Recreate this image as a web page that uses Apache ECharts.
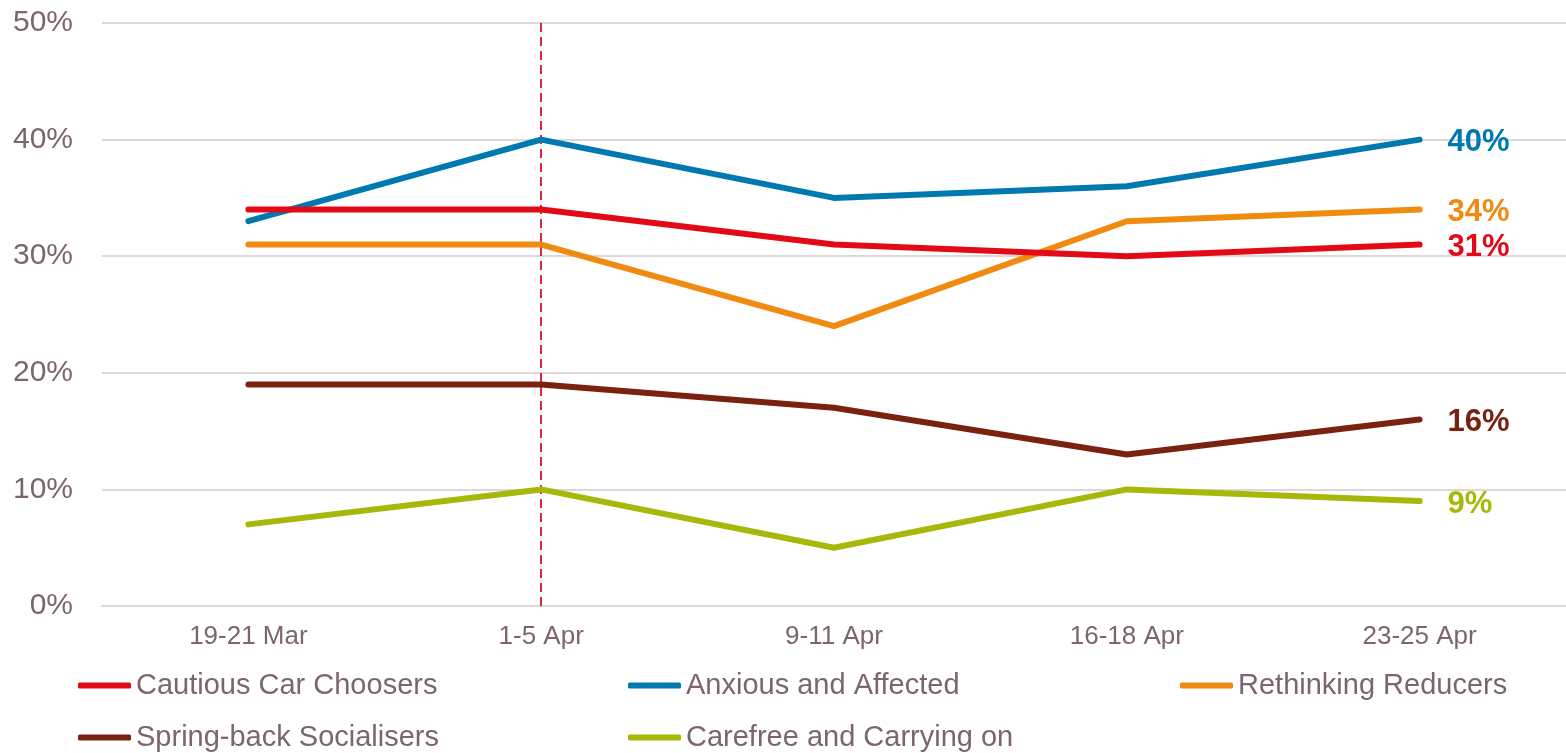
<!DOCTYPE html>
<html>
<head>
<meta charset="utf-8">
<script src="https://cdn.jsdelivr.net/npm/echarts@6/dist/echarts.min.js"></script>
<style>
  html, body { margin: 0; padding: 0; background: #ffffff; }
  #chart { width: 1566px; height: 753px; }
</style>
</head>
<body>
<div id="chart"></div>
<script>
// Survey waves
const categories = ['19-21 Mar', '1-5 Apr', '9-11 Apr', '16-18 Apr', '23-25 Apr'];

// Share of respondents in each segment (%)
const cautiousCarChoosers = [34, 34, 31, 30, 31];
const anxiousAndAffected = [33, 40, 35, 36, 40];
const rethinkingReducers = [31, 31, 24, 33, 34];
const springBackSocialisers = [19, 19, 17, 13, 16];
const carefreeAndCarryingOn = [7, 10, 5, 10, 9];

const yTicks = [0, 10, 20, 30, 40, 50];
const markerCategory = '1-5 Apr';

const textColor = '#7b6571';
const gridColor = '#ddd7da';
const font = '"Liberation Sans", Arial, sans-serif';

const seriesDefs = [
  { name: 'Cautious Car Choosers', data: cautiousCarChoosers, color: '#e30a18' },
  { name: 'Anxious and Affected', data: anxiousAndAffected, color: '#0079b1' },
  { name: 'Rethinking Reducers', data: rethinkingReducers, color: '#f08a10' },
  { name: 'Spring-back Socialisers', data: springBackSocialisers, color: '#7a2110' },
  { name: 'Carefree and Carrying on', data: carefreeAndCarryingOn, color: '#a7b80a' }
];

const series = seriesDefs.map((s, i) => {
  const out = {
    name: s.name,
    type: 'line',
    data: s.data,
    showSymbol: false,
    symbol: 'none',
    z: 10 - i,
    lineStyle: { width: 6, color: s.color, cap: 'round', join: 'round' },
    itemStyle: { color: s.color },
    emphasis: { disabled: true },
    endLabel: {
      show: true,
      distance: 28,
      offset: [0, 3],
      formatter: p => p.value + '%',
      color: s.color,
      fontFamily: font,
      fontWeight: 'bold',
      fontSize: 31
    }
  };
  if (i === 0) {
    out.markLine = {
      silent: true,
      symbol: 'none',
      label: { show: false },
      lineStyle: { type: [9, 5], color: '#d9102a', width: 1.8 },
      data: [{ xAxis: markerCategory }]
    };
  }
  return out;
});

// One legend per entry, laid out in a 3-column grid below the plot
const legendSlots = [
  { name: 'Cautious Car Choosers', left: 78, top: 671 },
  { name: 'Anxious and Affected', left: 628, top: 671 },
  { name: 'Rethinking Reducers', left: 1180, top: 671 },
  { name: 'Spring-back Socialisers', left: 78, top: 723 },
  { name: 'Carefree and Carrying on', left: 628, top: 723 }
];

const legends = legendSlots.map(slot => ({
  left: slot.left,
  top: slot.top,
  padding: 0,
  itemWidth: 53,
  itemHeight: 6,
  itemGap: 5,
  icon: 'roundRect',
  data: [slot.name],
  textStyle: { color: textColor, fontFamily: font, fontSize: 29, padding: [0, 0, 0, 0] }
}));

const chart = echarts.init(document.getElementById('chart'), null, { renderer: 'canvas' });
chart.setOption({
  animation: false,
  backgroundColor: '#ffffff',
  grid: { left: 102, top: 23, width: 1469, bottom: 147, containLabel: false },
  legend: legends,
  xAxis: {
    type: 'category',
    data: categories,
    boundaryGap: true,
    axisLine: { show: true, lineStyle: { color: gridColor, width: 2 } },
    axisTick: { show: false },
    axisLabel: { color: textColor, fontFamily: font, fontSize: 26, margin: 18 }
  },
  yAxis: {
    type: 'value',
    min: yTicks[0],
    max: yTicks[yTicks.length - 1],
    interval: yTicks[1] - yTicks[0],
    axisLine: { show: false },
    axisTick: { show: false },
    splitLine: { lineStyle: { color: gridColor, width: 2 } },
    axisLabel: { color: textColor, fontFamily: font, fontSize: 30, margin: 29, formatter: '{value}%' }
  },
  series: series
});
</script>
</body>
</html>
